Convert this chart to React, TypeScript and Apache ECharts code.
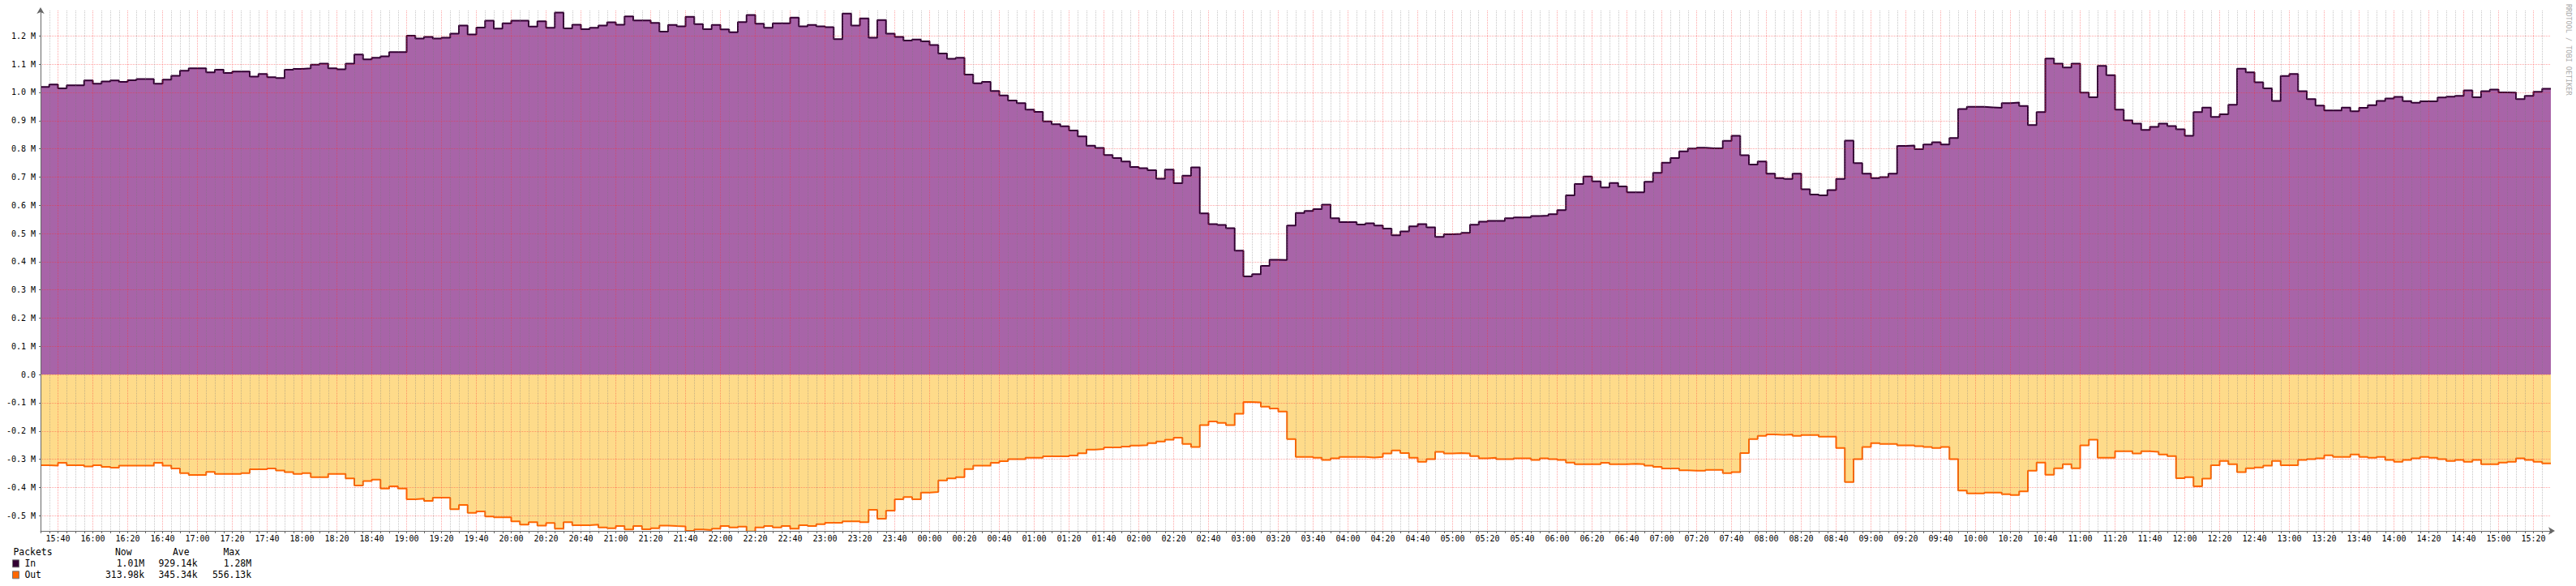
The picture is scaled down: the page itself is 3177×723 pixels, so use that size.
import React, { useEffect, useRef } from "react";
import * as echarts from "echarts";

// Time: minutes relative to 15:40 (first labelled tick). Data start at 15:30, 5-minute steps.
const START_MIN = -10;
const STEP_MIN = 5;
const END_MIN = 1430;
const LABEL_BASE_MIN = 15 * 60 + 40;

// Packets In (thousands), one value per 5-minute step from 15:30
const inK = [
  1019, 1028, 1014, 1025, 1025, 1042, 1031, 1039, 1042, 1037, 1043, 1047, 1047, 1031, 1045, 1059,
  1077, 1085, 1085, 1071, 1080, 1069, 1074, 1074, 1056, 1065, 1054, 1051, 1080, 1083, 1085, 1098,
  1102, 1085, 1082, 1102, 1134, 1117, 1123, 1128, 1143, 1143, 1201, 1191, 1197, 1191, 1194, 1208,
  1237, 1205, 1230, 1254, 1226, 1245, 1254, 1254, 1233, 1252, 1229, 1283, 1227, 1240, 1224, 1229,
  1237, 1248, 1240, 1269, 1255, 1255, 1246, 1215, 1239, 1234, 1268, 1242, 1224, 1239, 1223, 1213,
  1249, 1274, 1243, 1229, 1245, 1245, 1265, 1234, 1239, 1234, 1231, 1189, 1279, 1237, 1262, 1194,
  1256, 1208, 1197, 1184, 1187, 1181, 1168, 1138, 1119, 1123, 1063, 1032, 1037, 1005, 989, 971,
  962, 939, 931, 897, 887, 880, 865, 844, 811, 803, 778, 767, 755, 736, 731, 724,
  694, 726, 678, 705, 734, 571, 533, 530, 519, 439, 348, 356, 385, 407, 406, 528,
  573, 580, 586, 602, 554, 540, 540, 532, 536, 528, 517, 494, 507, 525, 533, 522,
  488, 497, 499, 502, 531, 542, 545, 545, 554, 557, 557, 562, 563, 568, 583, 635,
  675, 702, 685, 663, 679, 667, 646, 646, 683, 715, 751, 767, 791, 801, 804, 802,
  802, 828, 846, 777, 744, 755, 712, 696, 693, 712, 657, 638, 635, 654, 693, 829,
  749, 712, 696, 700, 712, 810, 812, 799, 815, 823, 815, 838, 941, 949, 949, 947,
  945, 962, 964, 952, 884, 930, 1120, 1102, 1088, 1102, 999, 983, 1094, 1061, 939, 901,
  889, 867, 878, 889, 881, 869, 846, 930, 946, 913, 922, 956, 1084, 1071, 1036, 1014,
  970, 1058, 1065, 1004, 976, 953, 936, 936, 946, 933, 945, 955, 970, 978, 984, 969,
  963, 968, 968, 982, 985, 988, 1007, 983, 1004, 1010, 1000, 999, 976, 988, 1002, 1013,
];

// Packets Out (thousands, drawn below zero)
const outK = [
  321, 323, 313, 321, 321, 326, 321, 327, 330, 323, 323, 323, 323, 313, 323, 333,
  349, 356, 356, 345, 352, 352, 352, 349, 336, 336, 333, 340, 346, 352, 349, 364,
  364, 352, 352, 368, 393, 377, 372, 404, 396, 404, 442, 440, 448, 436, 436, 477,
  462, 490, 485, 503, 506, 506, 520, 532, 523, 535, 526, 546, 523, 534, 534, 532,
  542, 545, 537, 549, 537, 548, 545, 535, 537, 538, 554, 549, 551, 546, 537, 542,
  539, 556, 542, 537, 542, 537, 546, 534, 537, 530, 525, 525, 520, 520, 523, 479,
  511, 482, 442, 434, 442, 418, 416, 375, 368, 364, 335, 323, 323, 313, 307, 300,
  300, 295, 295, 290, 290, 290, 287, 279, 266, 264, 258, 258, 255, 252, 250, 243,
  237, 231, 224, 246, 257, 179, 166, 171, 179, 139, 97, 99, 114, 120, 131, 229,
  292, 292, 295, 303, 297, 292, 292, 292, 294, 292, 280, 269, 278, 295, 309, 300,
  274, 280, 278, 280, 289, 297, 295, 300, 300, 297, 297, 303, 297, 300, 303, 312,
  318, 318, 318, 313, 318, 318, 316, 318, 323, 327, 333, 333, 339, 341, 341, 338,
  338, 349, 346, 278, 229, 217, 212, 214, 212, 217, 214, 214, 220, 220, 260, 381,
  300, 257, 243, 246, 246, 251, 251, 254, 257, 260, 257, 300, 411, 421, 421, 418,
  418, 424, 427, 414, 341, 312, 355, 332, 318, 332, 251, 231, 295, 295, 272, 272,
  280, 272, 274, 283, 289, 367, 364, 396, 369, 321, 306, 318, 346, 332, 329, 323,
  306, 321, 321, 303, 300, 297, 286, 292, 292, 283, 292, 295, 292, 303, 309, 303,
  297, 292, 295, 300, 306, 303, 309, 303, 318, 318, 312, 309, 297, 303, 309, 315,
];

const Y_MIN = -554000;
const Y_MAX = 1290000;

const legendTitle = "Packets";
const legendHeaders = ["Now", "Ave", "Max"];
const legendRows = [
  { name: "In", color: "#330033", values: ["1.01M", "929.14k", "1.28M"] },
  { name: "Out", color: "#FF6600", values: ["313.98k", "345.34k", "556.13k"] },
];
const watermark = "RRDTOOL / TOBI OETIKER";

const MONO = '"DejaVu Sans Mono", monospace';

function toSeries(vals: number[], sign: number) {
  const pts: [number, number][] = vals.map((v, i) => [START_MIN + i * STEP_MIN, sign * v * 1000]);
  pts.push([START_MIN + vals.length * STEP_MIN, sign * vals[vals.length - 1] * 1000]);
  return pts;
}

function fmtTime(v: number) {
  const m = (((LABEL_BASE_MIN + v) % 1440) + 1440) % 1440;
  const hh = Math.floor(m / 60);
  const mm = Math.round(m % 60);
  return String(hh).padStart(2, "0") + ":" + String(mm).padStart(2, "0");
}

function fmtY(v: number) {
  if (Math.abs(v) < 1) return "0.0";
  return (v / 1e6).toFixed(1) + " M";
}

export default function App() {
  const ref = useRef<HTMLDivElement>(null);
  useEffect(() => {
    if (!ref.current) return;
    const chart = echarts.init(ref.current, undefined, { renderer: "svg" });

    const headerX = [142, 213, 275.5];
    const valueRight = [178, 243.5, 310];
    const rowY = [695.3, 709.3];
    const graphics: any[] = [];
    graphics.push({
      type: "text",
      x: 16.5,
      y: 681,
      style: { text: legendTitle, fill: "#000", fontSize: 11.4, fontFamily: MONO, align: "left", verticalAlign: "middle" },
    });
    legendHeaders.forEach((h, i) => {
      graphics.push({
        type: "text",
        x: headerX[i],
        y: 681,
        style: { text: h, fill: "#000", fontSize: 11.4, fontFamily: MONO, align: "left", verticalAlign: "middle" },
      });
    });
    legendRows.forEach((r, ri) => {
      const y = rowY[ri];
      graphics.push({
        type: "rect",
        shape: { x: 15.5, y: y - 4.5, width: 8, height: 9 },
        style: { fill: r.color, stroke: "#777", lineWidth: 1 },
      });
      graphics.push({
        type: "text",
        x: 30.4,
        y,
        style: { text: r.name, fill: "#000", fontSize: 11.4, fontFamily: MONO, align: "left", verticalAlign: "middle" },
      });
      r.values.forEach((v, i) => {
        graphics.push({
          type: "text",
          x: valueRight[i],
          y,
          style: { text: v, fill: "#000", fontSize: 11.4, fontFamily: MONO, align: "right", verticalAlign: "middle" },
        });
      });
    });
    graphics.push({
      type: "text",
      x: 3168,
      y: 5,
      rotation: -Math.PI / 2,
      style: { text: watermark, fill: "#aaaaaa", fontSize: 8.5, fontFamily: MONO, align: "left", verticalAlign: "middle" },
    });

    chart.setOption({
      animation: false,
      backgroundColor: "#ffffff",
      grid: { left: 50, top: 13, width: 3096, height: 642, containLabel: false, outerBoundsMode: "none" },
      xAxis: {
        type: "value",
        min: START_MIN,
        max: END_MIN,
        minInterval: 20,
        maxInterval: 20,
        splitNumber: 72,
        z: 10,
        axisLine: {
          show: true,
          onZero: false,
          lineStyle: { color: "#666", width: 1 },
          symbol: ["none", "arrow"],
          symbolSize: [7, 8],
          symbolOffset: [0, 5],
        },
        axisTick: { show: true, length: 3, lineStyle: { color: "#666" } },
        minorTick: { show: true, splitNumber: 4, length: 3, lineStyle: { color: "#666" } },
        axisLabel: {
          show: true,
          interval: 0,
          margin: 4,
          showMinLabel: false,
          showMaxLabel: false,
          color: "#000",
          fontSize: 10,
          fontFamily: MONO,
          formatter: (v: number) => fmtTime(v),
        },
        splitLine: {
          show: true,
          showMinLine: false,
          showMaxLine: false,
          lineStyle: { color: "rgba(255,40,40,0.42)", width: 1, type: [1, 1] },
        },
        minorSplitLine: {
          show: true,
          lineStyle: { color: "rgba(120,120,120,0.42)", width: 1, type: [1, 1] },
        },
      },
      yAxis: {
        type: "value",
        min: Y_MIN,
        max: Y_MAX,
        minInterval: 100000,
        maxInterval: 100000,
        splitNumber: 18,
        z: 10,
        axisLine: {
          show: true,
          onZero: false,
          lineStyle: { color: "#666", width: 1 },
          symbol: ["none", "arrow"],
          symbolSize: [7, 8],
          symbolOffset: [0, 4],
        },
        axisTick: { show: true, length: 2, lineStyle: { color: "#666" } },
        axisLabel: {
          show: true,
          margin: 6,
          showMinLabel: false,
          showMaxLabel: false,
          color: "#000",
          fontSize: 10,
          fontFamily: MONO,
          formatter: (v: number) => fmtY(v),
        },
        splitLine: {
          show: true,
          showMinLine: false,
          showMaxLine: false,
          lineStyle: { color: "rgba(255,40,40,0.42)", width: 1, type: [1, 1] },
        },
      },
      graphic: graphics,
      series: [
        {
          name: "In",
          type: "line",
          step: "end",
          symbol: "none",
          z: 2,
          data: toSeries(inK, 1),
          lineStyle: { color: "#330033", width: 2 },
          areaStyle: { color: "#A864A8", opacity: 1, origin: 0 },
        },
        {
          name: "Out",
          type: "line",
          step: "end",
          symbol: "none",
          z: 2,
          data: toSeries(outK, -1),
          lineStyle: { color: "#FF6600", width: 2 },
          areaStyle: { color: "#FEDB8A", opacity: 1, origin: 0 },
        },
      ],
    });
    return () => chart.dispose();
  }, []);
  return (
    <div
      ref={ref}
      style={{ position: "fixed", left: 0, top: 0, width: 3177, height: 723, background: "#fff" }}
    />
  );
}
